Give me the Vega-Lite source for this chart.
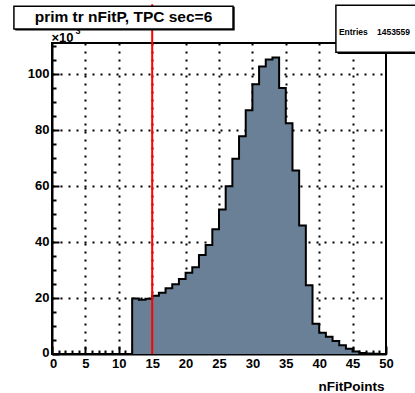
{
  "$schema": "https://vega.github.io/schema/vega-lite/v6.json",
  "width": 334,
  "height": 311,
  "autosize": "none",
  "padding": {"left": 52, "top": 43, "right": 29, "bottom": 39},
  "background": "white",
  "config": {
    "font": "Liberation Sans",
    "view": {"stroke": "black", "strokeWidth": 2},
    "axis": {
      "domainColor": "black", "domainWidth": 2,
      "tickColor": "black", "tickWidth": 2,
      "gridColor": "black", "gridDash": [2, 6], "gridWidth": 2,
      "labelFont": "Liberation Sans", "labelFontWeight": "bold", "labelFontSize": 13, "labelColor": "black",
      "labelOverlap": false, "labelFlush": false,
      "titleFont": "Liberation Sans", "titleFontWeight": "bold", "titleColor": "black",
      "zindex": 1
    }
  },
  "datasets": {
    "hist": [
      {"nFitPoints": 0, "count": 0}, {"nFitPoints": 1, "count": 0}, {"nFitPoints": 2, "count": 0},
      {"nFitPoints": 3, "count": 0}, {"nFitPoints": 4, "count": 0}, {"nFitPoints": 5, "count": 0},
      {"nFitPoints": 6, "count": 0}, {"nFitPoints": 7, "count": 0}, {"nFitPoints": 8, "count": 0},
      {"nFitPoints": 9, "count": 0}, {"nFitPoints": 10, "count": 0}, {"nFitPoints": 11, "count": 0},
      {"nFitPoints": 12, "count": 19.8}, {"nFitPoints": 13, "count": 19.4}, {"nFitPoints": 14, "count": 19.7},
      {"nFitPoints": 15, "count": 20.8}, {"nFitPoints": 16, "count": 21.9}, {"nFitPoints": 17, "count": 23.5},
      {"nFitPoints": 18, "count": 24.9}, {"nFitPoints": 19, "count": 26.8}, {"nFitPoints": 20, "count": 29.0},
      {"nFitPoints": 21, "count": 31.0}, {"nFitPoints": 22, "count": 35.3}, {"nFitPoints": 23, "count": 38.9},
      {"nFitPoints": 24, "count": 44.5}, {"nFitPoints": 25, "count": 51.6}, {"nFitPoints": 26, "count": 59.9},
      {"nFitPoints": 27, "count": 69.7}, {"nFitPoints": 28, "count": 77.7}, {"nFitPoints": 29, "count": 87.0},
      {"nFitPoints": 30, "count": 96.3}, {"nFitPoints": 31, "count": 102.6}, {"nFitPoints": 32, "count": 105.1},
      {"nFitPoints": 33, "count": 105.8}, {"nFitPoints": 34, "count": 94.9}, {"nFitPoints": 35, "count": 82.4},
      {"nFitPoints": 36, "count": 65.5}, {"nFitPoints": 37, "count": 45.9}, {"nFitPoints": 38, "count": 24.5},
      {"nFitPoints": 39, "count": 10.8}, {"nFitPoints": 40, "count": 7.6}, {"nFitPoints": 41, "count": 6.2},
      {"nFitPoints": 42, "count": 4.6}, {"nFitPoints": 43, "count": 3.1}, {"nFitPoints": 44, "count": 1.9},
      {"nFitPoints": 45, "count": 0.9}, {"nFitPoints": 46, "count": 0.4}, {"nFitPoints": 47, "count": 0.2},
      {"nFitPoints": 48, "count": 0.1}, {"nFitPoints": 49, "count": 0}, {"nFitPoints": 50, "count": 0}
    ]
  },
  "layer": [
    {
      "data": {"name": "hist"},
      "mark": {"type": "area", "interpolate": "step-after", "color": "#6a8097"},
      "encoding": {
        "x": {
          "field": "nFitPoints", "type": "quantitative",
          "scale": {"domain": [0, 50], "nice": false, "zero": false},
          "axis": {
            "values": [0,1,2,3,4,5,6,7,8,9,10,11,12,13,14,15,16,17,18,19,20,21,22,23,24,25,26,27,28,29,30,31,32,33,34,35,36,37,38,39,40,41,42,43,44,45,46,47,48,49,50],
            "tickCount": 200,
            "format": "d",
            "labelExpr": "datum.value % 5 === 0 ? datum.label : ''",
            "labelOverlap": false,
            "labelOffset": {"condition": {"test": "datum.value === 0", "value": 1}, "value": 0},
            "tickSize": -8,
            "tickDash": {"condition": {"test": "datum.value % 5 === 0", "value": [20, 1]}, "value": [4, 20]},
            "gridOpacity": {"condition": {"test": "datum.value % 5 === 0 && datum.value > 0 && datum.value < 50", "value": 1}, "value": 0},
            "labelPadding": 11,
            "title": "nFitPoints", "titleFontSize": 13.5,
            "titleAnchor": "end", "titleAlign": "right", "titleBaseline": "alphabetic",
            "titleX": 332, "titleY": 36
          }
        },
        "y": {
          "field": "count", "type": "quantitative",
          "scale": {"domain": [0, 111], "nice": false},
          "axis": {
            "values": [0,5,10,15,20,25,30,35,40,45,50,55,60,65,70,75,80,85,90,95,100,105,110],
            "tickCount": 200,
            "format": "d",
            "labelExpr": "datum.value % 20 === 0 ? datum.label : ''",
            "labelOverlap": false,
            "labelOffset": {"condition": {"test": "datum.value === 0", "value": -2}, "value": 0},
            "tickSize": -7,
            "tickDash": {"condition": {"test": "datum.value % 20 === 0", "value": [20, 1]}, "value": [4, 20]},
            "gridOpacity": {"condition": {"test": "datum.value % 20 === 0 && datum.value > 0", "value": 1}, "value": 0},
            "labelPadding": 10,
            "title": "×10", "titleFontSize": 13, "titleAngle": 0,
            "titleAlign": "left", "titleBaseline": "middle", "titleX": -1, "titleY": -6
          }
        }
      }
    },
    {
      "data": {"name": "hist"},
      "mark": {"type": "line", "interpolate": "step-after", "color": "black", "strokeWidth": 2},
      "encoding": {
        "x": {"field": "nFitPoints", "type": "quantitative"},
        "y": {"field": "count", "type": "quantitative"}
      }
    },
    {
      "data": {"values": [{"cut": 15}]},
      "mark": {"type": "rule", "color": "#ff0000", "strokeWidth": 2},
      "encoding": {
        "x": {"field": "cut", "type": "quantitative"},
        "y": {"datum": 0},
        "y2": {"datum": 124.8}
      }
    },
    {
      "data": {"values": [{"exp": "3"}]},
      "mark": {"type": "text", "align": "left", "baseline": "middle", "fontSize": 9, "fontWeight": "bold", "color": "black"},
      "encoding": {
        "x": {"datum": 3.5},
        "y": {"datum": 115.2},
        "text": {"field": "exp"}
      }
    },
    {
      "data": {"values": [{"t": "prim tr nFitP, TPC sec=6"}]},
      "mark": {"type": "rect", "color": "black"},
      "encoding": {
        "x": {"datum": -5.5}, "x2": {"datum": 27.35},
        "y": {"datum": 115.5}, "y2": {"datum": 123.9}
      }
    },
    {
      "data": {"values": [{"t": "prim tr nFitP, TPC sec=6"}]},
      "mark": {"type": "rect", "fill": "white", "stroke": "black", "strokeWidth": 1.5},
      "encoding": {
        "x": {"datum": -5.7}, "x2": {"datum": 27.1},
        "y": {"datum": 116.0}, "y2": {"datum": 124.1}
      }
    },
    {
      "data": {"values": [{"t": "prim tr nFitP, TPC sec=6"}]},
      "mark": {"type": "text", "align": "center", "baseline": "middle", "fontSize": 15.5, "fontWeight": "bold", "color": "black"},
      "encoding": {
        "x": {"datum": 10.7},
        "y": {"datum": 120.2},
        "text": {"field": "t"}
      }
    },
    {
      "data": {"values": [{"label": "Entries", "value": "1453559"}]},
      "mark": {"type": "rect", "color": "black"},
      "encoding": {
        "x": {"datum": 42.75}, "x2": {"datum": 57},
        "y": {"datum": 107.1}, "y2": {"datum": 124.3}
      }
    },
    {
      "data": {"values": [{"label": "Entries", "value": "1453559"}]},
      "mark": {"type": "rect", "fill": "white", "stroke": "black", "strokeWidth": 1.5},
      "encoding": {
        "x": {"datum": 42.5}, "x2": {"datum": 57},
        "y": {"datum": 107.7}, "y2": {"datum": 124.5}
      }
    },
    {
      "data": {"values": [{"label": "Entries", "value": "1453559"}]},
      "mark": {"type": "text", "align": "left", "baseline": "middle", "fontSize": 8.5, "fontWeight": "bold", "color": "black"},
      "encoding": {
        "x": {"datum": 42.95},
        "y": {"datum": 114.9},
        "text": {"field": "label"}
      }
    },
    {
      "data": {"values": [{"label": "Entries", "value": "1453559"}]},
      "mark": {"type": "text", "align": "right", "baseline": "middle", "fontSize": 8.5, "fontWeight": "bold", "color": "black"},
      "encoding": {
        "x": {"datum": 53.6},
        "y": {"datum": 114.9},
        "text": {"field": "value"}
      }
    }
  ]
}
